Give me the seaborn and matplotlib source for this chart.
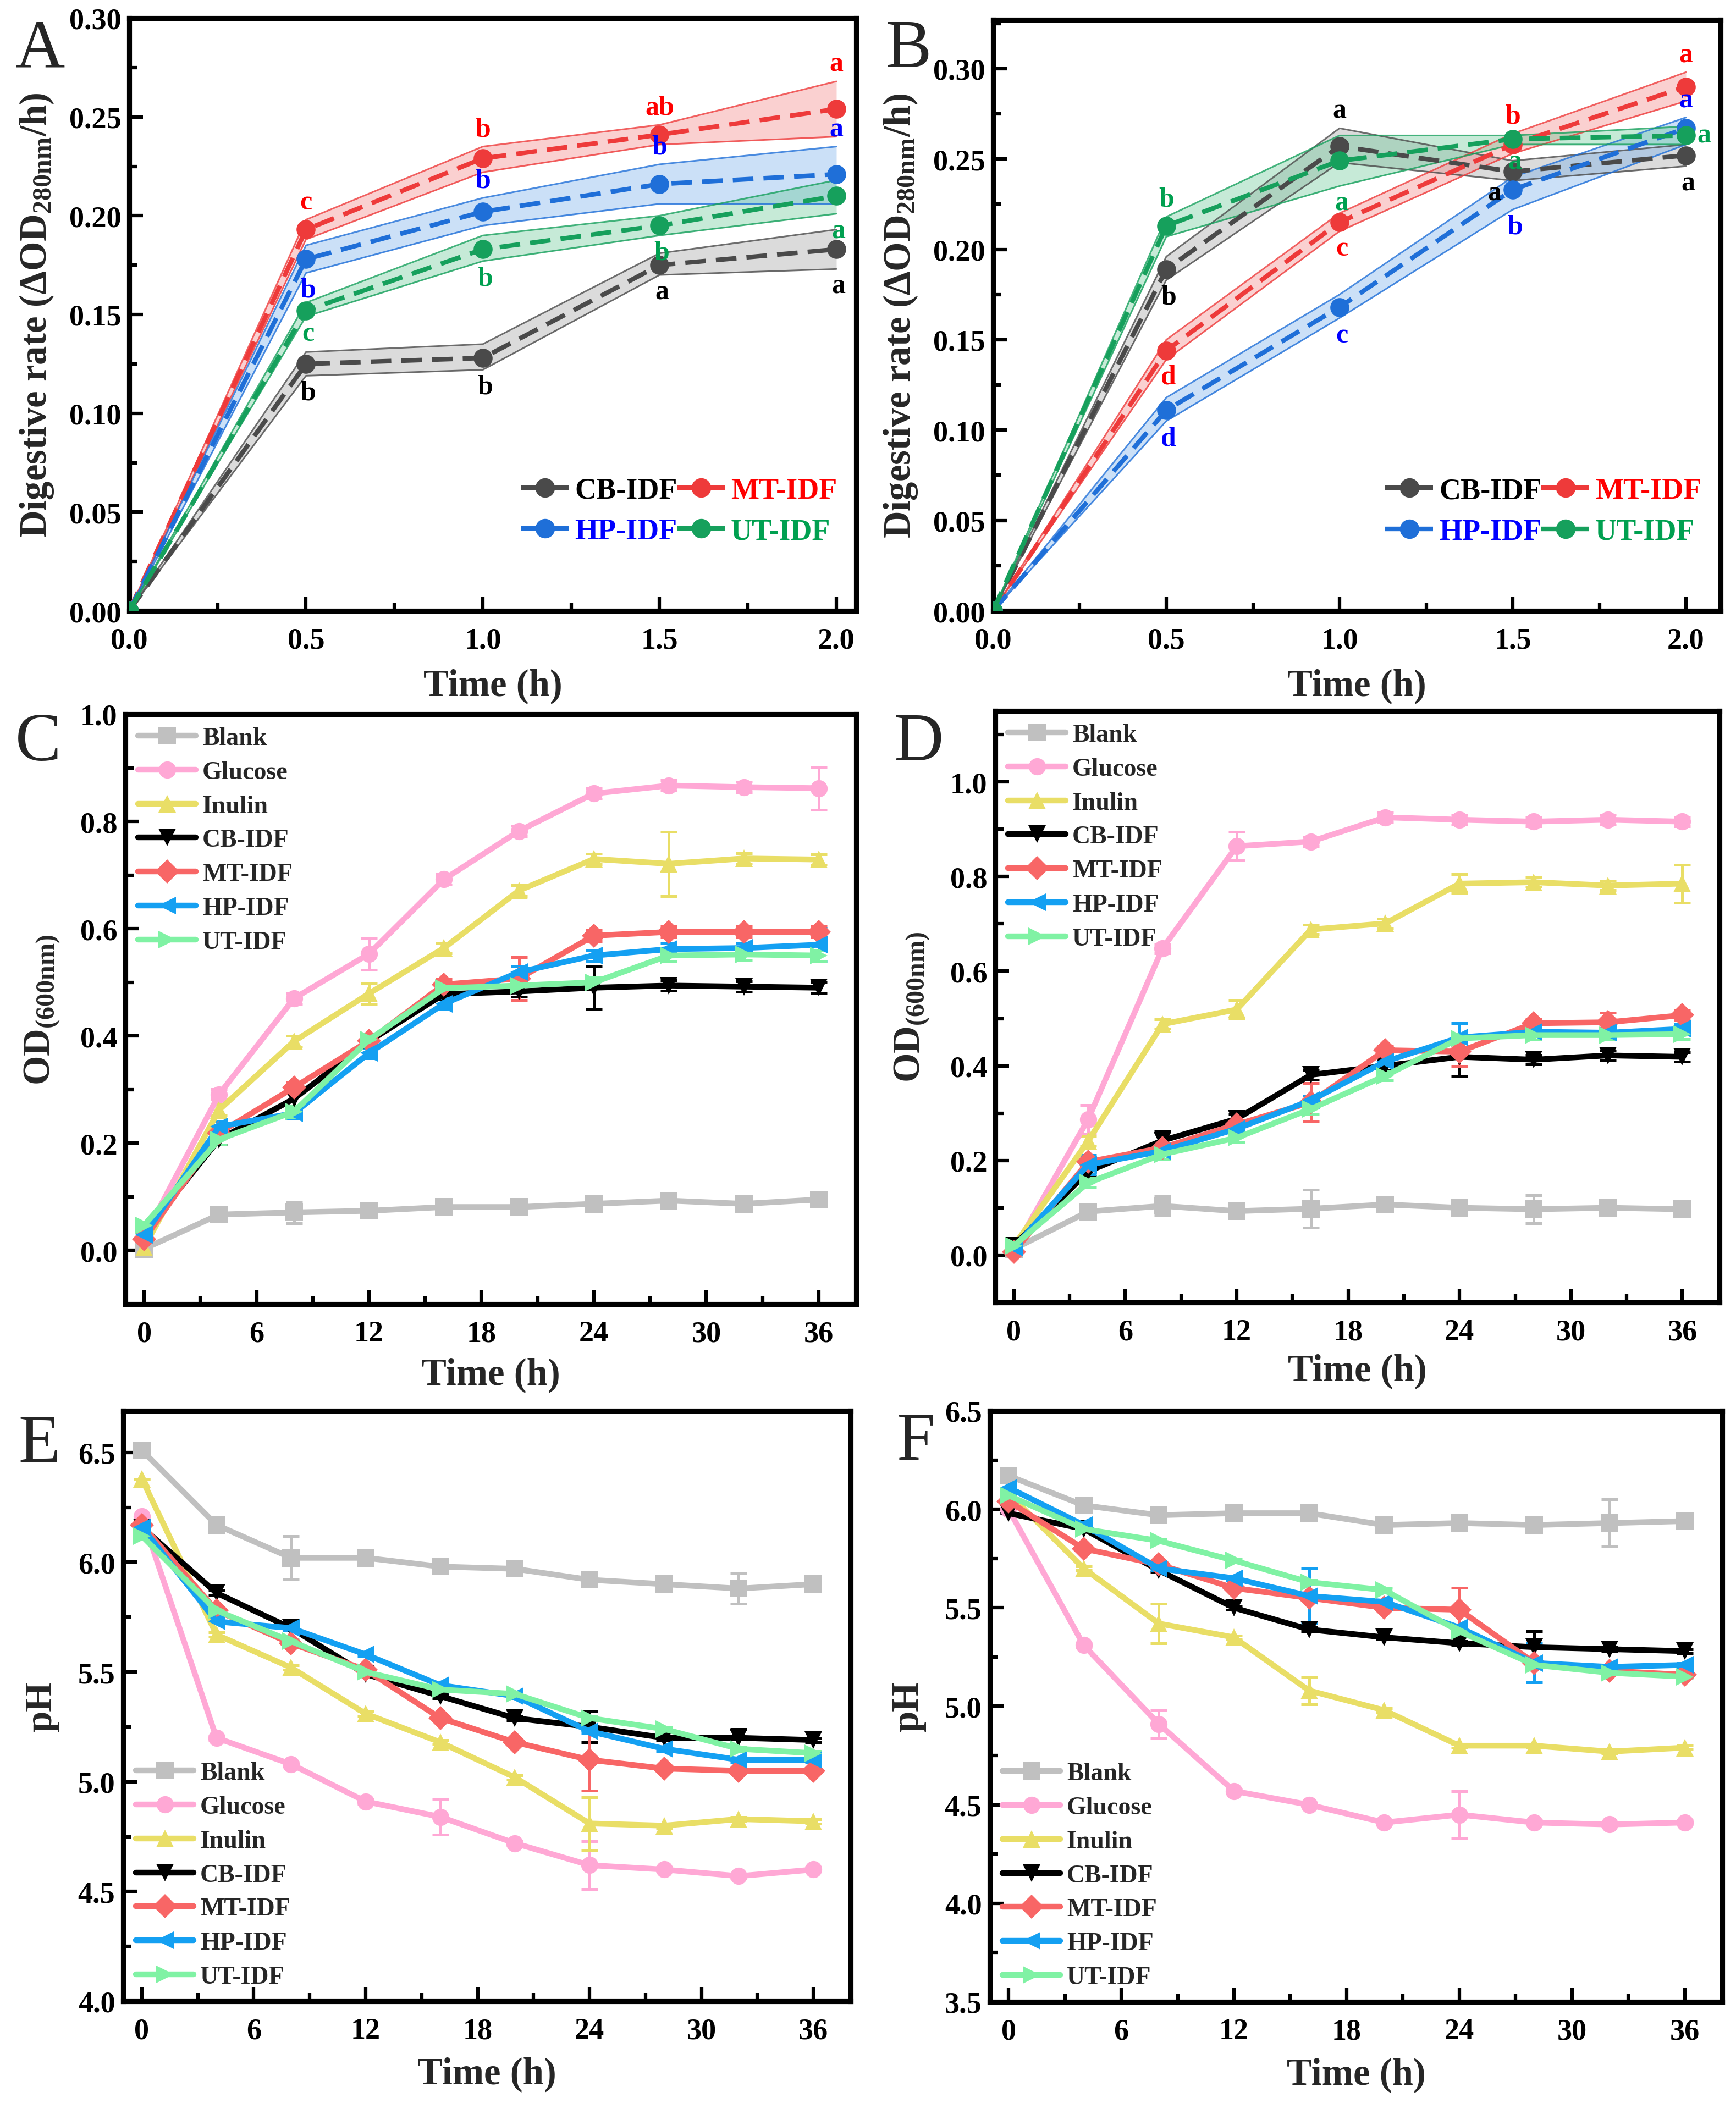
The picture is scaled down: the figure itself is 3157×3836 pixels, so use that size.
import numpy as np
import pandas as pd
import matplotlib
matplotlib.use("Agg")
import matplotlib.pyplot as plt
from matplotlib.lines import Line2D
from matplotlib.ticker import MultipleLocator, FormatStrFormatter
import seaborn as sns

# ---------------- data ----------------
# A / B : digestive rate, mean with shaded range
t_dig = [0.0, 0.5, 1.0, 1.5, 2.0]
dig_groups = ["CB-IDF", "MT-IDF", "HP-IDF", "UT-IDF"]

A_cb = [0, 0.125, 0.128, 0.175, 0.183]
A_cb_lo = [0, 0.119, 0.122, 0.170, 0.173]
A_cb_hi = [0, 0.131, 0.135, 0.181, 0.193]
A_mt = [0, 0.193, 0.229, 0.241, 0.254]
A_mt_lo = [0, 0.188, 0.222, 0.236, 0.240]
A_mt_hi = [0, 0.198, 0.235, 0.246, 0.268]
A_hp = [0, 0.178, 0.202, 0.216, 0.221]
A_hp_lo = [0, 0.171, 0.195, 0.206, 0.206]
A_hp_hi = [0, 0.185, 0.209, 0.226, 0.235]
A_ut = [0, 0.152, 0.183, 0.195, 0.210]
A_ut_lo = [0, 0.149, 0.177, 0.190, 0.201]
A_ut_hi = [0, 0.156, 0.190, 0.200, 0.218]

B_cb = [0, 0.189, 0.257, 0.243, 0.252]
B_cb_lo = [0, 0.183, 0.248, 0.238, 0.246]
B_cb_hi = [0, 0.196, 0.267, 0.249, 0.258]
B_mt = [0, 0.144, 0.215, 0.258, 0.290]
B_mt_lo = [0, 0.139, 0.210, 0.253, 0.282]
B_mt_hi = [0, 0.150, 0.220, 0.264, 0.298]
B_hp = [0, 0.111, 0.168, 0.233, 0.267]
B_hp_lo = [0, 0.105, 0.162, 0.222, 0.258]
B_hp_hi = [0, 0.118, 0.175, 0.240, 0.273]
B_ut = [0, 0.213, 0.249, 0.261, 0.263]
B_ut_lo = [0, 0.207, 0.235, 0.258, 0.258]
B_ut_hi = [0, 0.218, 0.263, 0.263, 0.268]

# significance letters at 0.5, 1.0, 1.5, 2.0 h and where they sit (u=above, d=below, l=left, r=right)
A_letters = {"CB-IDF": (["b", "b", "a", "a"], ["d", "d", "d", "d"]),
             "MT-IDF": (["c", "b", "ab", "a"], ["u", "u", "u", "u"]),
             "HP-IDF": (["b", "b", "b", "a"], ["d", "u", "u", "u"]),
             "UT-IDF": (["c", "b", "b", "a"], ["d", "d", "d", "d"])}
B_letters = {"CB-IDF": (["b", "a", "a", "a"], ["d", "u", "l", "d"]),
             "MT-IDF": (["d", "c", "b", "a"], ["d", "d", "u", "u"]),
             "HP-IDF": (["d", "c", "b", "a"], ["d", "d", "d", "u"]),
             "UT-IDF": (["b", "a", "a", "a"], ["u", "d", "d", "r"])}

# C-F : fermentation
t_fer = [0, 4, 8, 12, 16, 20, 24, 28, 32, 36]
fer_groups = ["Blank", "Glucose", "Inulin", "CB-IDF", "MT-IDF", "HP-IDF", "UT-IDF"]

C_blank = [0.003, 0.067, 0.071, 0.074, 0.081, 0.081, 0.087, 0.093, 0.087, 0.095]
C_glucose = [0.025, 0.291, 0.470, 0.553, 0.692, 0.782, 0.852, 0.867, 0.864, 0.862]
C_inulin = [0.006, 0.262, 0.390, 0.479, 0.564, 0.671, 0.730, 0.721, 0.731, 0.729]
C_cb = [0.033, 0.207, 0.283, 0.390, 0.478, 0.483, 0.490, 0.494, 0.492, 0.490]
C_mt = [0.021, 0.219, 0.304, 0.391, 0.496, 0.507, 0.587, 0.594, 0.594, 0.594]
C_hp = [0.029, 0.231, 0.256, 0.368, 0.460, 0.519, 0.550, 0.562, 0.564, 0.570]
C_ut = [0.047, 0.207, 0.259, 0.393, 0.489, 0.494, 0.500, 0.550, 0.552, 0.550]
C_err = {"Blank": [0, 0.005, 0.02, 0.005, 0.005, 0.005, 0.005, 0.005, 0.005, 0.005],
         "Glucose": [0, 0.01, 0.01, 0.03, 0.01, 0.01, 0.01, 0.01, 0.01, 0.04],
         "Inulin": [0, 0.01, 0.01, 0.02, 0.01, 0.01, 0.01, 0.06, 0.01, 0.01],
         "CB-IDF": [0, 0.01, 0.02, 0.01, 0.01, 0.01, 0.04, 0.01, 0.01, 0.01],
         "MT-IDF": [0, 0.01, 0.01, 0.01, 0.01, 0.04, 0.01, 0.01, 0.01, 0.01],
         "HP-IDF": [0, 0.01, 0.01, 0.01, 0.01, 0.01, 0.01, 0.01, 0.01, 0.03],
         "UT-IDF": [0, 0.01, 0.01, 0.01, 0.01, 0.01, 0.01, 0.01, 0.01, 0.01]}

D_blank = [0.013, 0.092, 0.104, 0.093, 0.098, 0.107, 0.100, 0.097, 0.100, 0.097]
D_glucose = [0.011, 0.287, 0.648, 0.864, 0.874, 0.925, 0.920, 0.916, 0.920, 0.916]
D_inulin = [0.020, 0.241, 0.488, 0.519, 0.688, 0.701, 0.785, 0.788, 0.781, 0.785]
D_cb = [0.020, 0.177, 0.242, 0.288, 0.381, 0.400, 0.419, 0.413, 0.422, 0.419]
D_mt = [0.007, 0.197, 0.227, 0.276, 0.323, 0.433, 0.430, 0.490, 0.492, 0.507]
D_hp = [0.016, 0.191, 0.220, 0.267, 0.327, 0.409, 0.460, 0.472, 0.470, 0.478]
D_ut = [0.020, 0.153, 0.213, 0.248, 0.309, 0.379, 0.458, 0.465, 0.465, 0.467]
D_err = {"Blank": [0, 0.005, 0.02, 0.005, 0.04, 0.005, 0.005, 0.03, 0.005, 0.005],
         "Glucose": [0, 0.03, 0.01, 0.03, 0.01, 0.01, 0.01, 0.01, 0.01, 0.01],
         "Inulin": [0, 0.01, 0.01, 0.02, 0.01, 0.01, 0.02, 0.01, 0.01, 0.04],
         "CB-IDF": [0, 0.01, 0.02, 0.01, 0.01, 0.01, 0.04, 0.01, 0.01, 0.01],
         "MT-IDF": [0, 0.01, 0.01, 0.01, 0.04, 0.01, 0.03, 0.01, 0.02, 0.01],
         "HP-IDF": [0, 0.02, 0.01, 0.01, 0.01, 0.01, 0.03, 0.01, 0.01, 0.01],
         "UT-IDF": [0, 0.01, 0.01, 0.01, 0.01, 0.01, 0.01, 0.01, 0.01, 0.01]}

E_blank = [6.51, 6.17, 6.02, 6.02, 5.98, 5.97, 5.92, 5.90, 5.88, 5.90]
E_glucose = [6.21, 5.20, 5.08, 4.91, 4.84, 4.72, 4.62, 4.60, 4.57, 4.60]
E_inulin = [6.38, 5.67, 5.52, 5.31, 5.18, 5.02, 4.81, 4.80, 4.83, 4.82]
E_cb = [6.16, 5.86, 5.70, 5.49, 5.39, 5.29, 5.25, 5.20, 5.20, 5.19]
E_mt = [6.17, 5.78, 5.63, 5.51, 5.29, 5.18, 5.10, 5.06, 5.05, 5.05]
E_hp = [6.16, 5.73, 5.70, 5.58, 5.44, 5.39, 5.23, 5.15, 5.10, 5.10]
E_ut = [6.12, 5.78, 5.64, 5.50, 5.42, 5.40, 5.29, 5.24, 5.15, 5.13]
E_err = {"Blank": [0, 0.01, 0.10, 0.01, 0.03, 0.01, 0.01, 0.01, 0.07, 0.01],
         "Glucose": [0, 0.01, 0.01, 0.01, 0.08, 0.01, 0.11, 0.01, 0.01, 0.01],
         "Inulin": [0, 0.01, 0.01, 0.01, 0.01, 0.01, 0.12, 0.01, 0.01, 0.01],
         "CB-IDF": [0, 0.01, 0.01, 0.01, 0.01, 0.01, 0.07, 0.01, 0.04, 0.01],
         "MT-IDF": [0, 0.01, 0.01, 0.01, 0.01, 0.01, 0.14, 0.01, 0.01, 0.01],
         "HP-IDF": [0, 0.01, 0.01, 0.01, 0.01, 0.01, 0.01, 0.01, 0.01, 0.01],
         "UT-IDF": [0, 0.01, 0.01, 0.01, 0.01, 0.01, 0.01, 0.01, 0.01, 0.01]}

F_blank = [6.17, 6.02, 5.97, 5.98, 5.98, 5.92, 5.93, 5.92, 5.93, 5.94]
F_glucose = [6.00, 5.31, 4.91, 4.57, 4.50, 4.41, 4.45, 4.41, 4.40, 4.41]
F_inulin = [6.08, 5.70, 5.42, 5.35, 5.08, 4.98, 4.80, 4.80, 4.77, 4.79]
F_cb = [5.98, 5.90, 5.69, 5.50, 5.39, 5.35, 5.32, 5.30, 5.29, 5.28]
F_mt = [6.04, 5.80, 5.72, 5.60, 5.55, 5.50, 5.49, 5.22, 5.18, 5.16]
F_hp = [6.11, 5.92, 5.70, 5.65, 5.56, 5.53, 5.40, 5.22, 5.20, 5.21]
F_ut = [6.07, 5.90, 5.84, 5.74, 5.63, 5.59, 5.38, 5.21, 5.17, 5.15]
F_err = {"Blank": [0, 0.01, 0.01, 0.01, 0.01, 0.01, 0.01, 0.01, 0.12, 0.01],
         "Glucose": [0, 0.01, 0.07, 0.01, 0.01, 0.01, 0.12, 0.01, 0.01, 0.01],
         "Inulin": [0, 0.01, 0.10, 0.01, 0.07, 0.01, 0.01, 0.01, 0.01, 0.01],
         "CB-IDF": [0, 0.01, 0.01, 0.01, 0.01, 0.01, 0.01, 0.08, 0.01, 0.01],
         "MT-IDF": [0, 0.01, 0.01, 0.01, 0.01, 0.01, 0.11, 0.01, 0.01, 0.01],
         "HP-IDF": [0, 0.01, 0.01, 0.01, 0.14, 0.01, 0.01, 0.10, 0.01, 0.01],
         "UT-IDF": [0, 0.01, 0.01, 0.01, 0.01, 0.01, 0.01, 0.01, 0.01, 0.01]}

# ---------------- style ----------------
sns.set_style("ticks")
plt.rcParams["font.family"] = ["Liberation Serif", "DejaVu Serif"]
plt.rcParams["font.weight"] = "bold"
plt.rcParams["axes.labelweight"] = "bold"
plt.rcParams["mathtext.fontset"] = "custom"
plt.rcParams["mathtext.rm"] = "Liberation Serif:bold"
plt.rcParams["mathtext.bf"] = "Liberation Serif:bold"
plt.rcParams["mathtext.it"] = "Liberation Serif:bold"
plt.rcParams["lines.dashed_pattern"] = [4.5, 2.2]

dig_line = {"CB-IDF": "#4a4a4a", "MT-IDF": "#ee3a3a", "HP-IDF": "#1f6fd8", "UT-IDF": "#16a05c"}
dig_fill = {"CB-IDF": "#9a9a9a", "MT-IDF": "#f27a7a", "HP-IDF": "#6aa8ea", "UT-IDF": "#5cc58e"}
dig_text = {"CB-IDF": "black", "MT-IDF": "#ff0000", "HP-IDF": "#0000ff", "UT-IDF": "#00a050"}

fer_color = {"Blank": "#c0c0c0", "Glucose": "#ffa8d5", "Inulin": "#e9de66", "CB-IDF": "black",
             "MT-IDF": "#f86666", "HP-IDF": "#14a0f2", "UT-IDF": "#80f2a4"}
fer_marker = {"Blank": "s", "Glucose": "o", "Inulin": "^", "CB-IDF": "v",
              "MT-IDF": "D", "HP-IDF": "<", "UT-IDF": ">"}

W, H = 3157, 3837
fig = plt.figure(figsize=(W / 300, H / 300), dpi=300)


def box(x0, y0, x1, y1):
    return [x0 / W, 1 - y1 / H, (x1 - x0) / W, (y1 - y0) / H]


def style_axes(ax):
    for s in ax.spines.values():
        s.set_linewidth(2.2)
        s.set_color("black")
    ax.tick_params(which="both", direction="in", top=False, right=False,
                   labelsize=13, width=1.5, colors="black")
    ax.tick_params(which="major", length=6)
    ax.tick_params(which="minor", length=3.5)
    ax.tick_params(axis="x", pad=7)
    ax.tick_params(axis="y", pad=3.5)
    for lab in ax.get_xticklabels() + ax.get_yticklabels():
        lab.set_fontweight("bold")


def digest_panel(ax, series, letters, lims):
    for g, (vals, lo, hi) in series.items():
        ax.fill_between(t_dig, lo, hi, color=dig_fill[g], alpha=0.35, lw=0, zorder=1)
        ax.plot(t_dig, lo, color=dig_line[g], lw=0.7, alpha=0.8, zorder=1.5)
        ax.plot(t_dig, hi, color=dig_line[g], lw=0.7, alpha=0.8, zorder=1.5)
        sns.lineplot(x=t_dig, y=vals, ax=ax, color=dig_line[g], linestyle="--", lw=2.0,
                     marker="o", markersize=7.5, markeredgecolor=dig_line[g],
                     markeredgewidth=0.8, errorbar=None, zorder=3)
        labs, where = letters[g]
        for i, (lab, w) in enumerate(zip(labs, where)):
            x = t_dig[i + 1]
            if w == "u":
                xy, off, ha, va = (x, hi[i + 1]), (0, 2), "center", "bottom"
            elif w == "d":
                xy, off, ha, va = (x, lo[i + 1]), (1, -2), "center", "top"
            elif w == "l":
                xy, off, ha, va = (x, lo[i + 1]), (-5, 0), "right", "top"
            else:
                xy, off, ha, va = (x, vals[i + 1]), (5, 0), "left", "center"
            ax.annotate(lab, xy=xy, xytext=off, textcoords="offset points",
                        ha=ha, va=va, fontsize=12, fontweight="bold",
                        color=dig_text[g], zorder=5)
    ax.set_xlim(0, lims[2])
    ax.set_ylim(lims[0], lims[1])
    ax.xaxis.set_major_locator(MultipleLocator(0.5))
    ax.xaxis.set_minor_locator(MultipleLocator(0.25))
    ax.yaxis.set_major_locator(MultipleLocator(0.05))
    ax.yaxis.set_minor_locator(MultipleLocator(0.025))
    ax.xaxis.set_major_formatter(FormatStrFormatter("%.1f"))
    ax.yaxis.set_major_formatter(FormatStrFormatter("%.2f"))
    ax.set_xlabel("Time (h)", fontsize=16.5, fontweight="bold", labelpad=6)
    ax.set_ylabel("Digestive rate (ΔOD$_{\\mathrm{280nm}}$/h)", fontsize=16.5,
                  fontweight="bold", labelpad=6)
    order = ["CB-IDF", "HP-IDF", "MT-IDF", "UT-IDF"]
    handles = [Line2D([], [], color=dig_line[g], ls="--", lw=2.0, marker="o", ms=7.5,
                      mec=dig_line[g]) for g in order]
    leg = ax.legend(handles, order, ncol=2,
                    loc="lower right", bbox_to_anchor=(0.99, 0.09), frameon=False,
                    fontsize=13, handlelength=1.6, handletextpad=0.2, columnspacing=0.0,
                    labelspacing=0.45, borderaxespad=0)
    for txt, g in zip(leg.get_texts(), order):
        txt.set_color(dig_text[g])
        txt.set_fontweight("bold")
    style_axes(ax)


def ferment_panel(ax, values, errs, ylim, ystep, yfmt, ylabel, legloc, xpad):
    df = pd.DataFrame({"time": t_fer * len(fer_groups),
                       "value": np.concatenate([values[g] for g in fer_groups]),
                       "group": np.repeat(fer_groups, len(t_fer))})
    for g in fer_groups:
        ax.errorbar(t_fer, values[g], yerr=errs[g], fmt="none", ecolor=fer_color[g],
                    elinewidth=1.2, capsize=3.5, capthick=1.2, zorder=1.5)
    sns.lineplot(data=df, x="time", y="value", hue="group", style="group",
                 hue_order=fer_groups, style_order=fer_groups, palette=fer_color,
                 markers=fer_marker, dashes=False, lw=2.5, markersize=7.5,
                 markeredgewidth=0, errorbar=None, legend=False, ax=ax)
    ax.set_xlim(-1, 38)
    ax.set_ylim(*ylim)
    ax.xaxis.set_major_locator(MultipleLocator(6))
    ax.xaxis.set_minor_locator(MultipleLocator(3))
    ax.yaxis.set_major_locator(MultipleLocator(ystep))
    ax.yaxis.set_minor_locator(MultipleLocator(ystep / 2))
    ax.yaxis.set_major_formatter(FormatStrFormatter(yfmt))
    ax.set_xlabel("Time (h)", fontsize=16.5, fontweight="bold", labelpad=xpad)
    ax.set_ylabel(ylabel, fontsize=16.5, fontweight="bold", labelpad=8)
    handles = [Line2D([], [], color=fer_color[g], lw=2.5, marker=fer_marker[g], ms=7.5,
                      mew=0) for g in fer_groups]
    if legloc == "upper left":
        anchor = (0.0, 1.0)
    else:
        anchor = (0.0, 0.0)
    leg = ax.legend(handles, fer_groups, loc=legloc, bbox_to_anchor=anchor, frameon=False,
                    fontsize=11, handlelength=2.3, handletextpad=0.25, labelspacing=0.43,
                    borderaxespad=0.1)
    for txt in leg.get_texts():
        txt.set_fontweight("bold")
    style_axes(ax)


axA = fig.add_axes(box(235, 34, 1557, 1112))
digest_panel(axA, {"CB-IDF": (A_cb, A_cb_lo, A_cb_hi), "MT-IDF": (A_mt, A_mt_lo, A_mt_hi),
                   "HP-IDF": (A_hp, A_hp_lo, A_hp_hi), "UT-IDF": (A_ut, A_ut_lo, A_ut_hi)},
             A_letters, (0, 0.30, 2.056))

axB = fig.add_axes(box(1806, 37, 3129, 1112))
digest_panel(axB, {"CB-IDF": (B_cb, B_cb_lo, B_cb_hi), "MT-IDF": (B_mt, B_mt_lo, B_mt_hi),
                   "HP-IDF": (B_hp, B_hp_lo, B_hp_hi), "UT-IDF": (B_ut, B_ut_lo, B_ut_hi)},
             B_letters, (0, 0.327, 2.1))

od_label = "OD$_{\\mathrm{(600nm)}}$"
axC = fig.add_axes(box(228, 1300, 1557, 2373))
ferment_panel(axC, dict(zip(fer_groups, [C_blank, C_glucose, C_inulin, C_cb, C_mt, C_hp, C_ut])),
              C_err, (-0.1, 1.0), 0.2, "%.1f", od_label, "upper left", 4)

axD = fig.add_axes(box(1810, 1294, 3127, 2370))
ferment_panel(axD, dict(zip(fer_groups, [D_blank, D_glucose, D_inulin, D_cb, D_mt, D_hp, D_ut])),
              D_err, (-0.1, 1.15), 0.2, "%.1f", od_label, "upper left", 3)

axE = fig.add_axes(box(224, 2567, 1547, 3641))
ferment_panel(axE, dict(zip(fer_groups, [E_blank, E_glucose, E_inulin, E_cb, E_mt, E_hp, E_ut])),
              E_err, (4.0, 6.69), 0.5, "%.1f", "pH", "lower left", 5)

axF = fig.add_axes(box(1800, 2567, 3132, 3642))
ferment_panel(axF, dict(zip(fer_groups, [F_blank, F_glucose, F_inulin, F_cb, F_mt, F_hp, F_ut])),
              F_err, (3.5, 6.5), 0.5, "%.1f", "pH", "lower left", 5)

# panel letters
for lab, (px, py) in {"A": (28, 122), "B": (1610, 122), "C": (28, 1383),
                      "D": (1625, 1383), "E": (33, 2659), "F": (1630, 2655)}.items():
    fig.text(px / W, 1 - py / H, lab, fontsize=30, fontweight="normal",
             ha="left", va="baseline", family=["Liberation Serif"])

fig.savefig("out.png", dpi=300, facecolor="white")
